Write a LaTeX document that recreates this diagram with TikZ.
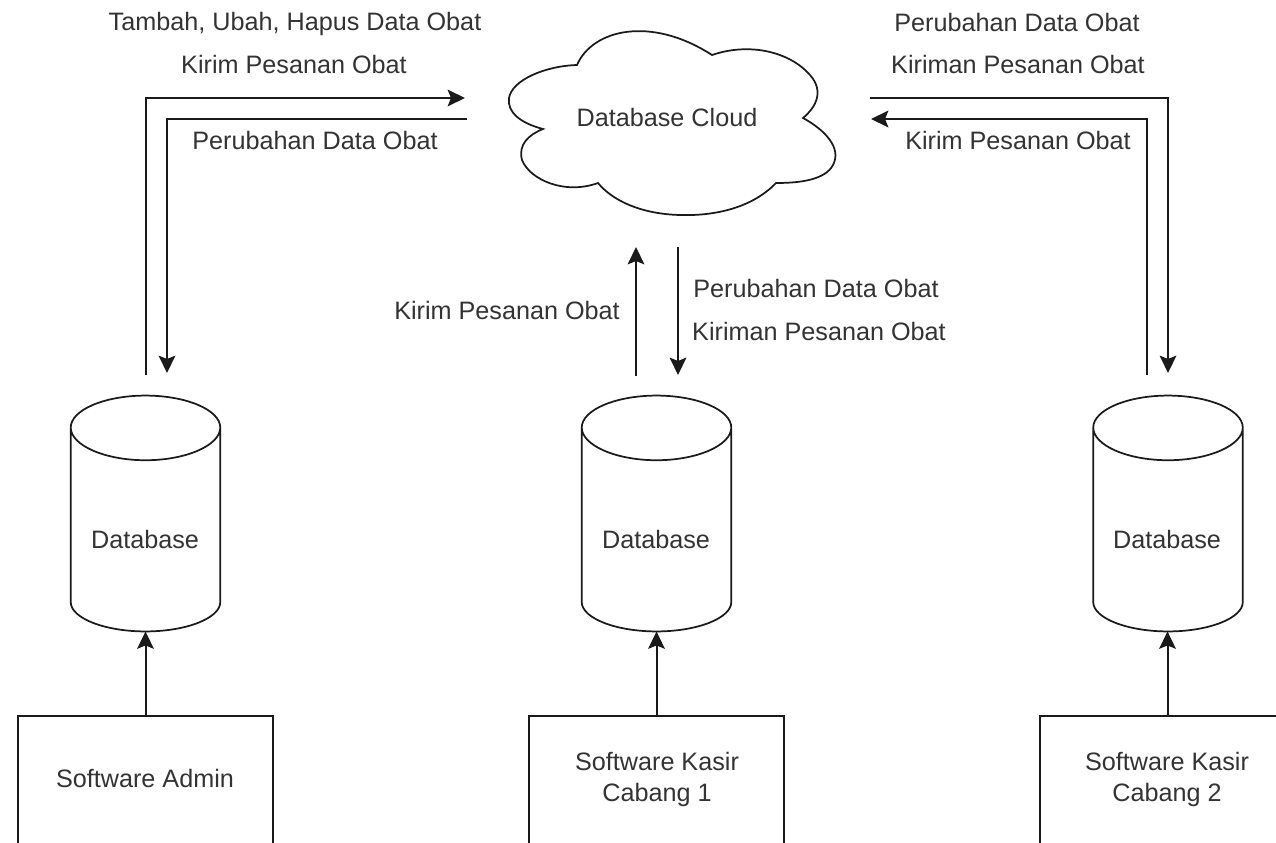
\documentclass[tikz,border=0pt]{standalone}
\usepackage{fontspec}
\setmainfont{Liberation Sans}
\usetikzlibrary{arrows.meta,calc}
\definecolor{txt}{HTML}{333333}
\definecolor{ln}{HTML}{1A1A1A}
\tikzset{
  x=0.75pt,y=-0.75pt,
  lbl/.style={inner sep=0pt,align=center,text=txt,font=\fontsize{18.9}{23.5}\selectfont},
  boxn/.style={draw=ln,line width=1.5pt,fill=none,minimum width=191.5pt,minimum height=105pt,inner sep=0pt},
  dbn/.style={minimum width=111.75pt,minimum height=176.5pt,inner sep=0pt,text=txt,font=\fontsize{18.9}{23.5}\selectfont},
  outline/.style={draw=ln,line width=1.3pt,fill=none},
  conn/.style={draw=ln,line width=1.5pt,-{Stealth[length=13pt,width=12.5pt,inset=2.5pt]}}
}
\newcommand{\dbshape}[1]{%
  \draw[outline] ($(#1.north west)+(0,-24pt)$)
    .. controls ($(#1.north west)+(0,-10.8pt)$) and ($(#1.north)+(-30.7pt,0)$) .. (#1.north)
    .. controls ($(#1.north)+(30.7pt,0)$) and ($(#1.north east)+(0,-10.8pt)$) .. ($(#1.north east)+(0,-24pt)$)
    .. controls ($(#1.north east)+(0,-37.2pt)$) and ($(#1.north)+(30.7pt,-48.5pt)$) .. ($(#1.north)+(0,-48.5pt)$)
    .. controls ($(#1.north)+(-30.7pt,-48.5pt)$) and ($(#1.north west)+(0,-37.2pt)$) .. ($(#1.north west)+(0,-24pt)$)
    -- ($(#1.south west)+(0,22pt)$)
    .. controls ($(#1.south west)+(0,10pt)$) and ($(#1.south)+(-30.7pt,0)$) .. (#1.south)
    .. controls ($(#1.south)+(30.7pt,0)$) and ($(#1.south east)+(0,10pt)$) .. ($(#1.south east)+(0,22pt)$)
    -- ($(#1.north east)+(0,-24pt)$);%
}
\begin{document}
\begin{tikzpicture}
\useasboundingbox (0,0) rectangle (1276,842);
\clip (0,0) rectangle (1276,842);
% cloud
\draw[outline] (577,65)
  .. controls (592,30) and (650,15) .. (712,55)
  .. controls (750,42) and (790,52) .. (810,75)
  .. controls (825,92) and (815,108) .. (803,118)
  .. controls (825,130) and (842,148) .. (833,165)
  .. controls (825,180) and (800,183) .. (776,183)
  .. controls (750,210) and (710,216) .. (680,215)
  .. controls (640,214) and (612,200) .. (598,183)
  .. controls (565,195) and (530,180) .. (522,160)
  .. controls (518,145) and (528,135) .. (543,129)
  .. controls (520,123) and (507,112) .. (509,98)
  .. controls (512,80) and (545,66) .. (577,65) -- cycle;
\node[lbl] (cloud) at (667,117) {Database Cloud};
% cylinders
\node[dbn] (db1) at (145.5,513.5) {};
\node[dbn] (db2) at (656.5,513.5) {};
\node[dbn] (db3) at (1168,513.5) {};
\dbshape{db1}\dbshape{db2}\dbshape{db3}
\node[lbl] (dbt1) at (145,539) {Database};
\node[lbl] (dbt2) at (656,539) {Database};
\node[lbl] (dbt3) at (1167,539) {Database};
% boxes
\node[boxn] (b1) at (145.5,786) {};
\node[boxn] (b2) at (656.5,786) {};
\node[boxn] (b3) at (1167.5,786) {};
\node[lbl] (bt1) at (145,778) {Software Admin};
\node[lbl] (bt2) at (657,779.5) {Software Kasir\\Cabang 1};
\node[lbl] (bt3) at (1167,779.5) {Software Kasir\\Cabang 2};
% free ends
\coordinate (a1) at (146,375);
\coordinate (a2) at (465,98);
\coordinate (a3) at (467,119);
\coordinate (a4) at (167,373);
\coordinate (c1) at (636,376);
\coordinate (c2) at (636,247);
\coordinate (c3) at (678,247);
\coordinate (c4) at (678,375);
\coordinate (r1) at (870,98);
\coordinate (r2) at (1168,373);
\coordinate (r3) at (1147,375);
\coordinate (r4) at (871,119);
% connectors
\draw[conn] (a1) |- (a2);
\draw[conn] (a3) -| (a4);
\draw[conn] (c1) -- (c2);
\draw[conn] (c3) -- (c4);
\draw[conn] (r1) -| (r2);
\draw[conn] (r3) |- (r4);
\draw[conn] (b1.north) -- (b1.north |- db1.south);
\draw[conn] (b2.north) -- (b2.north |- db2.south);
\draw[conn] (b3.north) -- (b3.north |- db3.south);
% labels
\node[lbl] (t1) at (295,24) {Tambah, Ubah, Hapus Data Obat};
\node[lbl] (t2) at (294,64) {Kirim Pesanan Obat};
\node[lbl] (t3) at (315,140) {Perubahan Data Obat};
\node[lbl] (t4) at (1017,22) {Perubahan Data Obat};
\node[lbl] (t5) at (1018,64) {Kiriman Pesanan Obat};
\node[lbl] (t6) at (1018,140) {Kirim Pesanan Obat};
\node[lbl] (t7) at (507,310) {Kirim Pesanan Obat};
\node[lbl] (t8) at (816,288) {Perubahan Data Obat};
\node[lbl] (t9) at (819,331) {Kiriman Pesanan Obat};
\end{tikzpicture}
\end{document}
